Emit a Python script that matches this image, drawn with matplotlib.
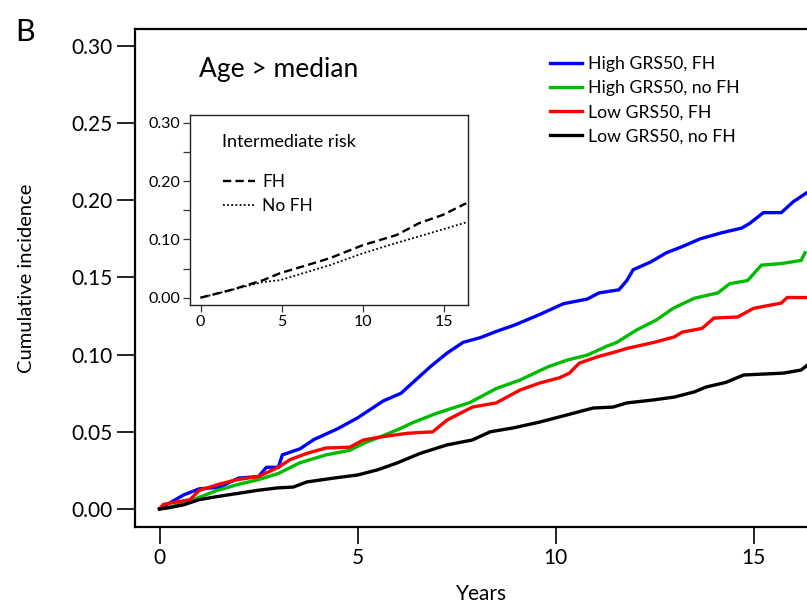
import matplotlib
matplotlib.use("Agg")
import matplotlib.pyplot as plt
import numpy as np

plt.rcParams['font.family'] = ['Lato', 'DejaVu Sans']

# main panel: cumulative incidence, age > median
blue_t = [0, 0.6, 1.0, 1.5, 2.0, 2.5, 2.7, 3.0, 3.1, 3.55, 3.9, 4.5, 5.0, 5.65, 6.1, 6.4,
          6.83, 7.26, 7.67, 8.1, 8.5, 8.95, 9.6, 10.2, 10.8, 11.1, 11.6, 11.8, 11.96, 12.4,
          12.8, 13.2, 13.65, 14.2, 14.7, 14.9, 15.25, 15.7, 16.0, 16.35]
blue_v = [0, 0.009, 0.013, 0.014, 0.020, 0.021, 0.027, 0.027, 0.035, 0.039, 0.045, 0.052,
          0.059, 0.070, 0.075, 0.082, 0.092, 0.101, 0.108, 0.111, 0.115, 0.119, 0.126, 0.133,
          0.136, 0.140, 0.142, 0.148, 0.155, 0.160, 0.166, 0.170, 0.175, 0.179, 0.182, 0.185,
          0.192, 0.192, 0.199, 0.205]

green_t = [0, 0.26, 0.85, 1.45, 2.0, 2.5, 3.0, 3.55, 4.2, 4.8, 5.2, 5.6, 6.07, 6.4, 7.0,
           7.84, 8.5, 9.1, 9.8, 10.3, 10.8, 11.3, 11.55, 12.05, 12.55, 12.97, 13.5, 14.1,
           14.4, 14.85, 15.2, 15.7, 16.2, 16.3]
green_v = [0, 0.001, 0.006, 0.012, 0.016, 0.019, 0.023, 0.030, 0.035, 0.038, 0.043, 0.047,
           0.052, 0.056, 0.062, 0.069, 0.078, 0.0835, 0.092, 0.0965, 0.0997, 0.1055, 0.108,
           0.116, 0.1225, 0.130, 0.1365, 0.140, 0.146, 0.148, 0.158, 0.159, 0.161, 0.166]

red_t = [0, 0.1, 0.77, 1.0, 1.5, 1.96, 2.5, 3.0, 3.3, 3.72, 4.2, 4.8, 5.15, 5.6, 6.25, 6.9,
         7.26, 7.9, 8.5, 9.1, 9.6, 10.1, 10.35, 10.6, 11.05, 11.5, 11.8, 12.5, 13.0, 13.2,
         13.7, 14.0, 14.6, 15.0, 15.7, 15.85, 16.35]
red_v = [0, 0.003, 0.006, 0.012, 0.016, 0.019, 0.021, 0.027, 0.032, 0.036, 0.0395, 0.040,
         0.0447, 0.0467, 0.049, 0.050, 0.0576, 0.066, 0.0687, 0.077, 0.0816, 0.085, 0.088,
         0.0945, 0.0985, 0.1017, 0.104, 0.108, 0.1115, 0.1146, 0.117, 0.1237, 0.1244, 0.130,
         0.1334, 0.137, 0.137]

black_t = [0, 0.19, 0.6, 1.0, 1.45, 1.96, 2.46, 2.97, 3.38, 3.72, 4.4, 5.0, 5.5, 6.0, 6.58,
           7.26, 7.9, 8.35, 8.93, 9.6, 10.3, 10.95, 11.45, 11.8, 12.46, 13.0, 13.5, 13.8,
           14.3, 14.75, 15.75, 16.2, 16.35]
black_v = [0, 0.0006, 0.0026, 0.006, 0.008, 0.010, 0.012, 0.0136, 0.0142, 0.0175, 0.020,
           0.022, 0.0253, 0.0298, 0.036, 0.0415, 0.0447, 0.050, 0.0525, 0.0563, 0.061, 0.0654,
           0.066, 0.0687, 0.0706, 0.0725, 0.0758, 0.079, 0.082, 0.0868, 0.088, 0.090, 0.093]

series = [
    ("High GRS50, FH", blue_t, blue_v, "#0000ff"),
    ("High GRS50, no FH", green_t, green_v, "#00bb00"),
    ("Low GRS50, FH", red_t, red_v, "#ff0000"),
    ("Low GRS50, no FH", black_t, black_v, "#000000"),
]

# inset: intermediate risk
fh_t = [0, 1.85, 3.85, 4.9, 6.95, 8.0, 10.0, 12.1, 13.5, 14.95, 16.4]
fh_v = [0, 0.013, 0.030, 0.042, 0.059, 0.068, 0.090, 0.1075, 0.128, 0.142, 0.162]
nofh_t = [0, 3.85, 4.9, 8.0, 10.0, 12.1, 14.2, 16.5]
nofh_v = [0, 0.027, 0.030, 0.056, 0.076, 0.094, 0.111, 0.130]

W, H = 807, 604
fig = plt.figure(figsize=(W / 100, H / 100), dpi=100)

ax = fig.add_axes([135 / W, 1 - 527 / H, (W - 135) / W, (527 - 29) / H])
for name, t, v, c in series:
    ax.plot(t, v, color=c, lw=2.4, label=name, solid_joinstyle='miter')

ax.set_xlim(-0.62, 16.35)
ax.set_ylim(-0.0117, 0.311)
ax.set_xticks([0, 5, 10, 15])
ax.set_yticks(np.arange(0, 0.31, 0.05))
ax.set_yticklabels(["%.2f" % y for y in np.arange(0, 0.31, 0.05)])
ax.tick_params(axis='y', length=13, width=1.2, labelsize=15, pad=3)
ax.tick_params(axis='x', length=12, width=1.2, labelsize=15, pad=3)
ax.spines['right'].set_visible(False)
for s in ['left', 'bottom', 'top']:
    ax.spines[s].set_linewidth(1.6)
ax.set_xlabel("Years", fontsize=15, labelpad=8)
ax.xaxis.set_label_coords(0.516, -0.115)
ax.set_ylabel("Cumulative incidence", fontsize=14.5, labelpad=26)

ax.text(0.095, 0.918, "Age > median", transform=ax.transAxes, fontsize=19, va='center')
ax.legend(loc='upper left', bbox_to_anchor=(0.6176, 0.945), frameon=False, fontsize=12.7,
          handlelength=1.8, handletextpad=0.34, labelspacing=0.45, borderaxespad=0,
          borderpad=0)

fig.text(15 / W, 1 - 32 / H, "B", fontsize=22, va='center')

ins = fig.add_axes([190 / W, 1 - 305 / H, (468 - 190) / W, (305 - 115) / H])
ins.plot(fh_t, fh_v, color='black', ls=(0, (3.5, 1.8)), lw=1.7, label="FH")
ins.plot(nofh_t, nofh_v, color='black', ls=(0, (1, 1.3)), lw=1.3, label="No FH")
ins.set_xlim(-0.65, 16.51)
ins.set_ylim(-0.0125, 0.3134)
ins.set_xticks([0, 5, 10, 15])
ins.set_yticks(np.arange(0, 0.31, 0.05))
ins.set_yticklabels(["%.2f" % y if i % 2 == 0 else "" for i, y in enumerate(np.arange(0, 0.31, 0.05))])
ins.tick_params(length=5, width=0.9, labelsize=11.5, pad=2, color='#333333')
for s in ins.spines.values():
    s.set_linewidth(1.0)
    s.set_color('#222222')
ins.text(0.115, 0.858, "Intermediate risk", transform=ins.transAxes, fontsize=13, va='center')
ins.legend(loc='upper left', bbox_to_anchor=(0.119, 0.688), frameon=False, fontsize=12.5,
           handlelength=1.84, handletextpad=0.4, labelspacing=0.44, borderaxespad=0,
           borderpad=0)

fig.savefig("out.png", dpi=100)
